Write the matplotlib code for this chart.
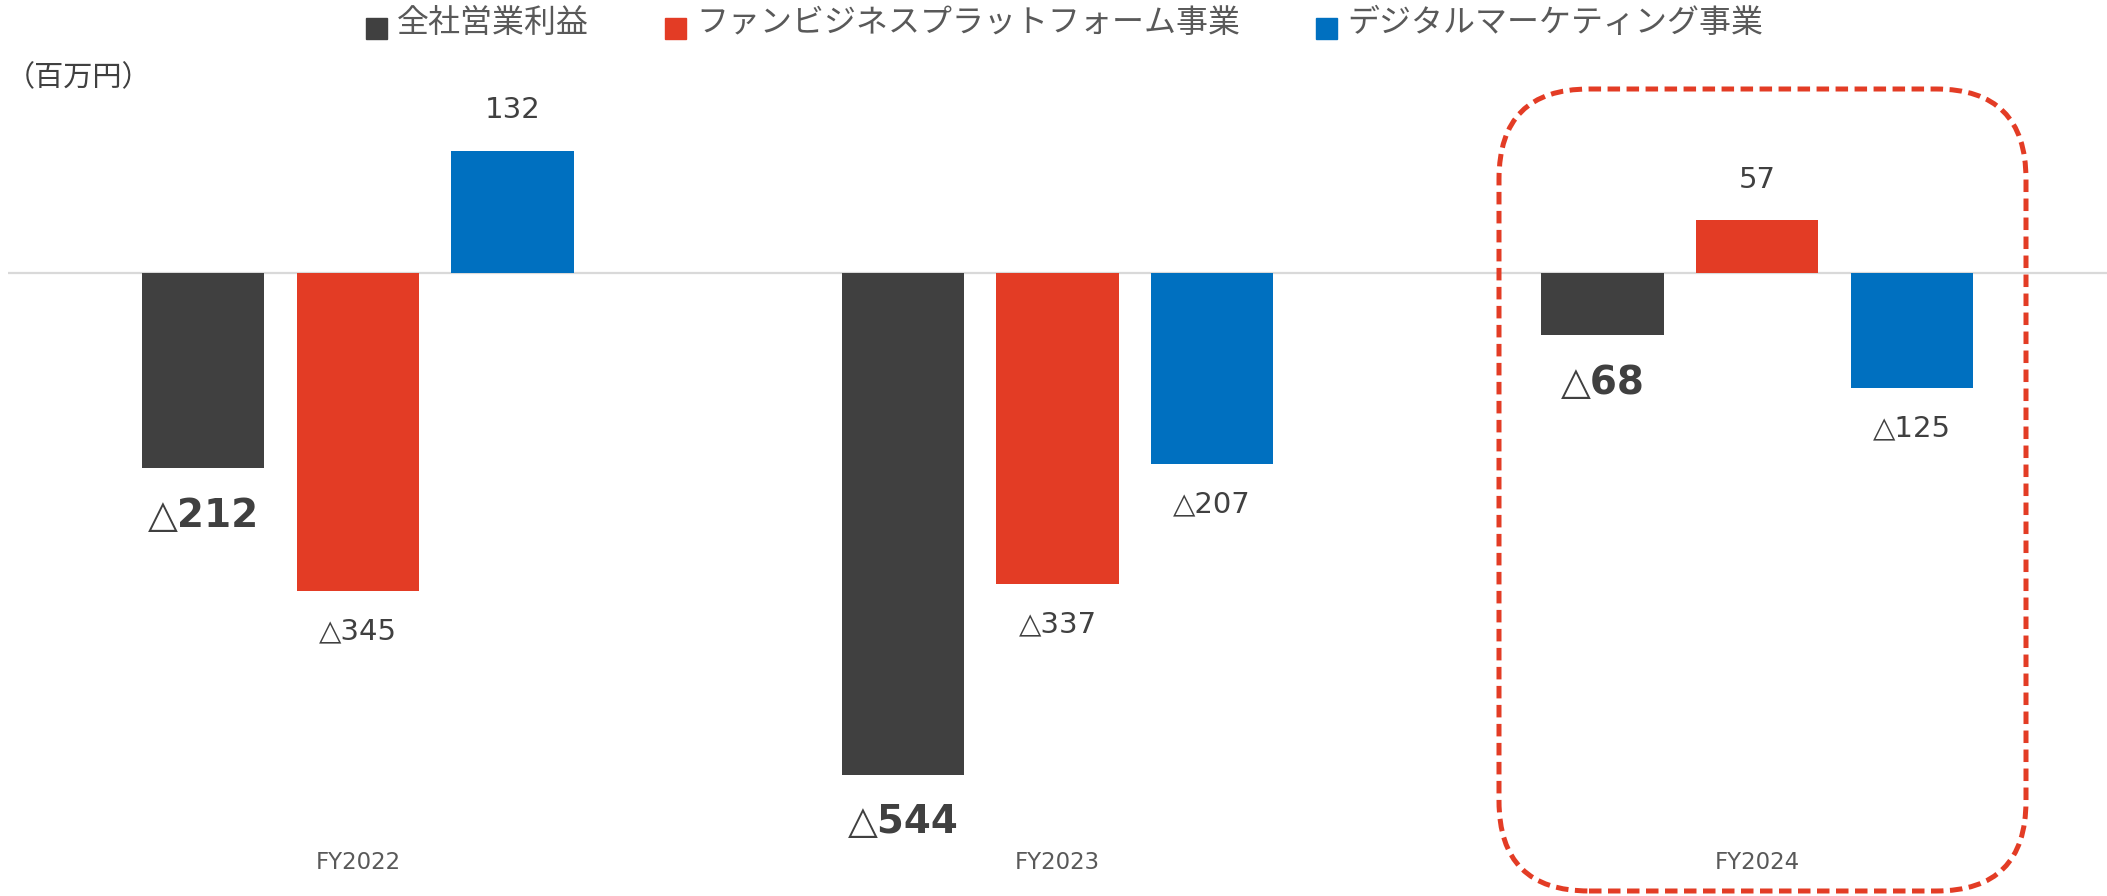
import numpy as np
import matplotlib
matplotlib.use("Agg")
import matplotlib.pyplot as plt
from matplotlib.patches import FancyBboxPatch, Rectangle
from matplotlib.transforms import IdentityTransform

plt.rcParams['font.family'] = ['Noto Sans CJK JP', 'DejaVu Sans']

years = ['FY2022', 'FY2023', 'FY2024']
series = ['全社営業利益', 'ファンビジネスプラットフォーム事業', 'デジタルマーケティング事業']
total = [-212, -544, -68]
fan = [-345, -337, 57]
digital = [132, -207, -125]
colors = ['#404040', '#E33C25', '#0070C0']

W, H = 2107, 896
fig = plt.figure(figsize=(W / 100, H / 100), dpi=100)
ax = fig.add_axes([8 / W, (H - 845) / H, 1 - 8 / W, (845 - 88) / H])

x = np.arange(len(years))
offs = [-0.221, 0.0, 0.221]
bw = 0.175
for i, vals in enumerate([total, fan, digital]):
    ax.bar(x + offs[i], vals, bw, color=colors[i], zorder=2)
    for xi, v in zip(x, vals):
        txt = str(v) if v >= 0 else '△' + str(-v)
        bold = (i == 0)
        dy = 34 if bold else 29
        ax.annotate(txt, (xi + offs[i], v), xytext=(0, dy if v >= 0 else -dy),
                    textcoords='offset points', ha='center', va='center',
                    fontsize=28 if bold else 21,
                    fontweight='bold' if bold else 'normal',
                    family='DejaVu Sans', color='#404040')

ax.axhline(0, color='#D9D9D9', lw=1.6, zorder=1)
ax.set_xlim(-0.5, 2.5)
ax.set_ylim(-620, 200)
ax.set_yticks([])
ax.set_xticks(x)
ax.set_xticklabels(years, family='DejaVu Sans', fontsize=16.5, color='#595959')
ax.tick_params(axis='x', length=0, pad=4)
for s in ax.spines.values():
    s.set_visible(False)

# legend drawn at the top
leg_x = [366, 665, 1316]
for lx, name, c in zip(leg_x, series, colors):
    fig.add_artist(Rectangle((lx, H - 39), 21, 21, color=c, transform=IdentityTransform()))
    fig.text((lx + 31) / W, 1 - 23 / H, name, fontsize=23, color='#595959', va='center', ha='left')

fig.text(6 / W, 1 - 78 / H, '（百万円）', fontsize=21, color='#404040', va='center', ha='left')

# highlight box around FY2024
box = FancyBboxPatch((1499, H - 891), 2026 - 1499, 891 - 89,
                     boxstyle='round,pad=0,rounding_size=90',
                     fill=False, edgecolor='#E33C25', lw=3.6,
                     linestyle=(0, (2.5, 1.3)), transform=IdentityTransform())
fig.add_artist(box)

fig.savefig('out.png', dpi=100)
